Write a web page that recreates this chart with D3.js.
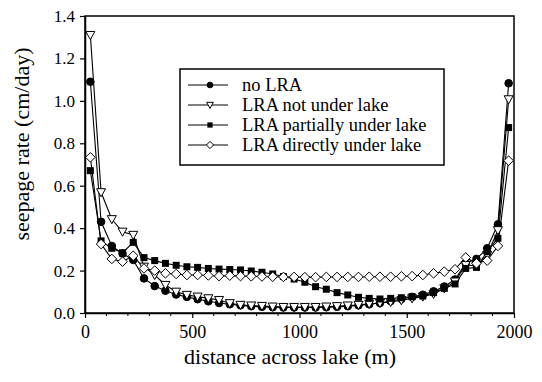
<!DOCTYPE html>
<html>
<head>
<meta charset="utf-8">
<script src="https://cdn.jsdelivr.net/npm/d3@7"></script>
<style>
  html, body { margin: 0; padding: 0; background: #fff; }
  svg { display: block; }
</style>
</head>
<body>
<svg id="chart" width="542" height="382"></svg>
<script>
// ---- data ----
const distances = [25,75,125,175,225,275,325,375,425,475,525,575,625,675,725,775,825,875,925,975,
                   1025,1075,1125,1175,1225,1275,1325,1375,1425,1475,1525,1575,1625,1675,1725,1775,1825,1875,1925,1975];
const noLRA = [1.09,0.43,0.316,0.28,0.25,0.163,0.127,0.105,0.087,0.076,0.065,0.055,0.047,0.041,0.036,0.032,0.029,0.027,0.026,0.026,
               0.026,0.026,0.027,0.029,0.032,0.036,0.041,0.047,0.056,0.066,0.076,0.086,0.102,0.125,0.158,0.235,0.255,0.305,0.418,1.083];
const notUnder = [1.31,0.569,0.442,0.383,0.368,0.218,0.179,0.132,0.10,0.085,0.077,0.069,0.061,0.046,0.038,0.035,0.033,0.030,0.028,0.028,
                  0.028,0.028,0.030,0.032,0.035,0.038,0.043,0.047,0.052,0.060,0.069,0.077,0.090,0.116,0.148,0.226,0.222,0.273,0.39,1.007];
const partially = [0.671,0.34,0.305,0.284,0.333,0.261,0.247,0.234,0.225,0.218,0.215,0.21,0.207,0.205,0.203,0.198,0.192,0.184,0.172,0.16,
                   0.145,0.124,0.112,0.096,0.085,0.074,0.069,0.066,0.069,0.072,0.077,0.08,0.096,0.116,0.137,0.21,0.215,0.289,0.352,0.874];
const directly = [0.734,0.325,0.255,0.242,0.27,0.21,0.20,0.187,0.184,0.179,0.179,0.177,0.174,0.176,0.174,0.173,0.172,0.171,0.17,0.17,
                  0.169,0.169,0.17,0.17,0.17,0.17,0.171,0.171,0.171,0.173,0.174,0.179,0.187,0.195,0.206,0.262,0.234,0.247,0.316,0.718];
const seriesNames = ["no LRA","LRA not under lake","LRA partially under lake","LRA directly under lake"];
const xTicks = [0,500,1000,1500,2000];
const yTicks = [0,0.2,0.4,0.6,0.8,1.0,1.2,1.4];

const series = [
  {name: seriesNames[0], values: noLRA, marker: "circle"},
  {name: seriesNames[1], values: notUnder, marker: "triangleDown"},
  {name: seriesNames[2], values: partially, marker: "square"},
  {name: seriesNames[3], values: directly, marker: "diamond"}
];

// ---- pick an installed serif font ----
function pickSerif() {
  const c = document.createElement("canvas").getContext("2d");
  const probe = "distance across lake (m) 0123456789 LRA";
  const w = f => { c.font = "40px " + f; return c.measureText(probe).width; };
  const wMono = w("monospace"), wSans = w("sans-serif");
  const cands = ["Liberation Serif","Tinos","Times New Roman","Nimbus Roman","FreeSerif","DejaVu Serif","Noto Serif","Noto Serif CJK SC","serif"];
  for (const f of cands) {
    const name = f === "serif" ? "serif" : `'${f}'`;
    const a = w(name + ", monospace"), b = w(name + ", sans-serif");
    if (Math.abs(a - b) < 0.5 && Math.abs(a - wMono) > 0.5 && Math.abs(a - wSans) > 0.5) return name;
  }
  return "'Liberation Serif'";
}
const FONT = pickSerif() + ", serif";

// ---- layout ----
const svg = d3.select("#chart").attr("font-family", FONT);
const pL = 85, pR = 514, pT = 16, pB = 313;
const x = d3.scaleLinear().domain([0,2000]).range([pL,pR]);
const y = d3.scaleLinear().domain([0,1.4]).range([pB,pT]);

// frame
svg.append("rect").attr("x",pL).attr("y",pT).attr("width",pR-pL).attr("height",pB-pT)
  .attr("fill","none").attr("stroke","#000").attr("stroke-width",1.5);

// x axis
const xAxis = svg.append("g").attr("transform",`translate(0,${pB})`)
  .call(d3.axisBottom(x).tickValues(xTicks).tickFormat(d3.format("d")).tickSizeInner(5).tickSizeOuter(0).tickPadding(7));
xAxis.attr("font-family", FONT).attr("font-size", 18);
xAxis.select(".domain").attr("stroke-width",1.5);
xAxis.selectAll("line").attr("stroke-width",1.2);
// minor x ticks
const minor = d3.range(0,2001,100).filter(v => v % 500 !== 0);
svg.append("g").selectAll("line").data(minor).join("line")
  .attr("x1",d=>x(d)).attr("x2",d=>x(d)).attr("y1",pB).attr("y2",pB+3)
  .attr("stroke","#000").attr("stroke-width",1);

// y axis
const yAxis = svg.append("g").attr("transform",`translate(${pL},0)`)
  .call(d3.axisLeft(y).tickValues(yTicks).tickFormat(d3.format(".1f")).tickSizeInner(5).tickSizeOuter(0).tickPadding(5));
yAxis.attr("font-family", FONT).attr("font-size", 17);
yAxis.select(".domain").attr("stroke-width",1.5);
yAxis.selectAll("line").attr("stroke-width",1.2);

// axis titles
svg.append("text").attr("x",290).attr("y",364).attr("text-anchor","middle")
  .attr("font-size",22).text("distance across lake (m)");
svg.append("text").attr("transform",`translate(29,144) rotate(-90)`)
  .attr("text-anchor","middle").attr("font-size",22).text("seepage rate (cm/day)");

// markers
function drawMarker(g, type, cx, cy, s) {
  if (type === "circle") {
    g.append("circle").attr("cx",cx).attr("cy",cy).attr("r",3.8*s).attr("fill","#000").attr("stroke","#000");
  } else if (type === "square") {
    g.append("rect").attr("x",cx-3.5*s).attr("y",cy-3.5*s).attr("width",7*s).attr("height",7*s).attr("fill","#000");
  } else if (type === "triangleDown") {
    const h = 4.5*s;
    g.append("path").attr("d",`M${cx-h},${cy-h*0.8}L${cx+h},${cy-h*0.8}L${cx},${cy+h}Z`)
      .attr("fill","#fff").attr("stroke","#000").attr("stroke-width",1);
  } else if (type === "diamond") {
    const h = 4.8*s;
    g.append("path").attr("d",`M${cx},${cy-h}L${cx+h},${cy}L${cx},${cy+h}L${cx-h},${cy}Z`)
      .attr("fill","#fff").attr("stroke","#000").attr("stroke-width",1);
  }
}

const line = d3.line().x((d,i)=>x(distances[i])).y(d=>y(d));
const plot = svg.append("g");
series.forEach(s => {
  plot.append("path").datum(s.values).attr("d",line).attr("fill","none").attr("stroke","#000").attr("stroke-width",1.1);
});
series.forEach(s => {
  const g = plot.append("g");
  s.values.forEach((v,i) => drawMarker(g, s.marker, x(distances[i]), y(v), 1));
});

// legend
const lg = svg.append("g");
lg.append("rect").attr("x",180).attr("y",69).attr("width",264).attr("height",96)
  .attr("fill","#fff").attr("stroke","#000").attr("stroke-width",1.5);
series.forEach((s,i) => {
  const ly = 85 + i*20;
  lg.append("line").attr("x1",188).attr("x2",228).attr("y1",ly).attr("y2",ly).attr("stroke","#000").attr("stroke-width",1.1);
  drawMarker(lg, s.marker, 210, ly, 0.75);
  lg.append("text").attr("x",242).attr("y",ly).attr("dy","0.35em").attr("font-size",18.5).text(s.name);
});
</script>
</body>
</html>
